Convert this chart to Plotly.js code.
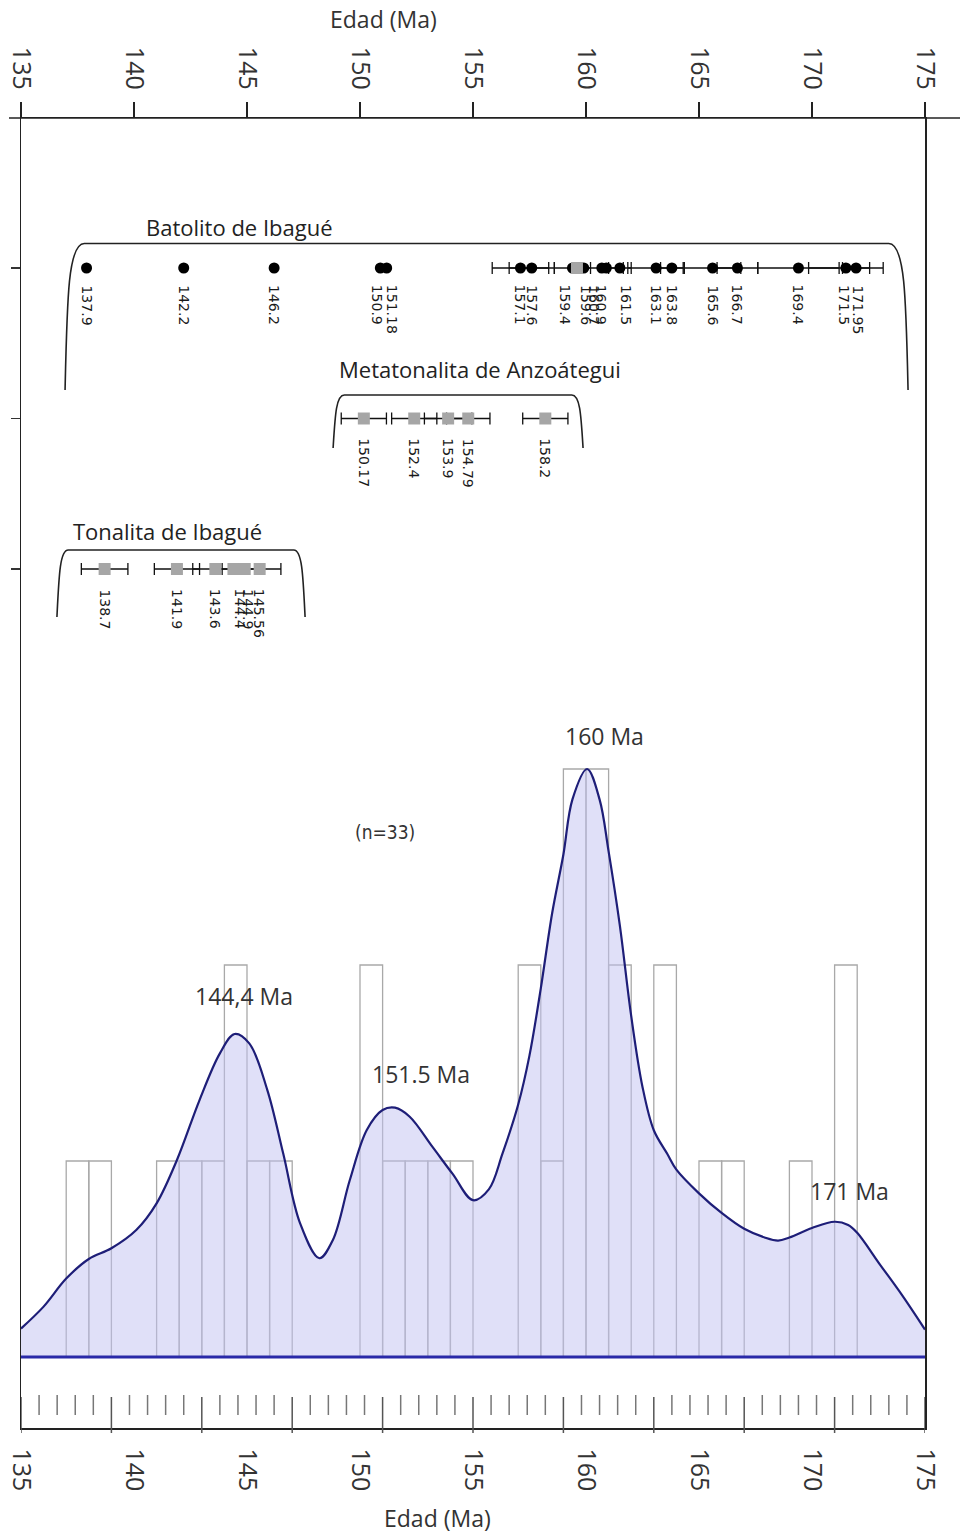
<!DOCTYPE html>
<html>
<head>
<meta charset="utf-8">
<script src="https://cdn.plot.ly/plotly-3.0.1.min.js"></script>
<style>
html,body{margin:0;padding:0;background:#ffffff;}
#chart{width:960px;height:1534px;}
</style>
</head>
<body>
<div id="chart"></div>
<script>
// ---------------- DATA ----------------
// Rows of the upper panel, bottom -> top
const groupNames = ["Tonalita de Ibagué", "Metatonalita de Anzoátegui", "Batolito de Ibagué"];

// Batolito de Ibagué (black circles); null = error bar not visible
const batolitoAges = [137.9, 142.2, 146.2, 150.9, 151.18, 157.1, 157.6, 159.4, 160.7, 160.9, 161.5, 163.1, 163.8, 165.6, 166.7, 169.4, 171.5, 171.95];
const batolitoErr  = [null, null, null, null, null, 1.25, 1.0, 0.8, 0.95, null, 0.5, 1.25, 0.5, 1.25, 0.9, 1.8, 1.65, 0.6];
// Batolito, gray square and unlabeled circle
const batolitoSquareAges = [159.6];
const batolitoSquareErr  = [null];
const batolitoExtraAges  = [159.9];
const batolitoExtraErr   = [null];

// Metatonalita de Anzoátegui (gray squares)
const metaAges = [150.17, 152.4, 153.9, 154.79, 158.2];
const metaErr  = [1.0, 1.0, 1.05, 0.96, 1.0];

// Tonalita de Ibagué (gray squares)
const tonaAges = [138.7, 141.9, 143.6, 144.4, 144.9, 145.56];
const tonaErr  = [1.03, 1.0, 1.0, 0.5, 0.5, 0.94];

// Histogram (1 Ma bins): bin start and count
const binStarts = [137, 138, 141, 142, 143, 144, 145, 146, 150, 151, 152, 153, 154, 157, 158, 159, 160, 161, 163, 165, 166, 169, 171];
const binCounts = [1, 1, 1, 1, 1, 2, 1, 1, 2, 1, 1, 1, 1, 2, 1, 3, 3, 2, 2, 1, 1, 1, 2];

// Probability density curve (in histogram-count units)
const kdeAge = [135.0, 136.0, 137.0, 138.0, 139.0, 140.1, 141.0, 141.9, 142.9, 143.8, 144.45, 145.1, 145.9, 146.6, 147.35, 148.2, 148.8, 149.55, 150.3, 151.0, 151.55, 152.2, 153.2, 154.1, 155.0, 155.7, 156.3, 157.0, 157.5, 158.0, 158.5, 159.0, 159.4, 160.05, 160.6, 161.0, 161.5, 162.0, 162.5, 163.0, 163.6, 164.0, 165.0, 166.0, 167.0, 167.9, 168.5, 169.0, 170.0, 171.0, 171.6, 172.0, 173.0, 174.0, 175.0];
const kdeDensity = [0.145, 0.257, 0.40, 0.50, 0.555, 0.648, 0.784, 1.005, 1.311, 1.549, 1.648, 1.60, 1.362, 1.039, 0.682, 0.504, 0.597, 0.903, 1.158, 1.26, 1.272, 1.226, 1.073, 0.934, 0.80, 0.855, 1.036, 1.288, 1.539, 1.881, 2.263, 2.564, 2.845, 3.0, 2.845, 2.58, 2.2, 1.74, 1.378, 1.157, 1.036, 0.956, 0.835, 0.735, 0.654, 0.61, 0.594, 0.61, 0.658, 0.69, 0.674, 0.634, 0.473, 0.313, 0.14];

// Peak labels
const peakTexts = ["144,4 Ma", "151.5 Ma", "160 Ma", "171 Ma"];
const peakAt    = [144.87, 152.7, 160.84, 171.64];
const peakLabelLevel = [1.842, 1.444, 3.168, 0.847];

// Axis tick labels
const axisTickVals = [135, 140, 145, 150, 155, 160, 165, 170, 175];
const axisTickText = ["135", "140", "145", "150", "155", "160", "165", "170", "175"];
const axisTitle = "Edad (Ma)";
const sampleNote = "(n=33)";

// ---------------- GEOMETRY / STYLE ----------------
const PX = {L: 21, R: 925, T: 118, B: 1428};
const px2paperX = p => (p - PX.L) / (PX.R - PX.L);
const px2paperY = p => (PX.B - p) / (PX.B - PX.T);
const split = px2paperY(680);

const sans = "'Open Sans', 'Noto Sans', sans-serif";
const labelFont = {family: "'DejaVu Sans', sans-serif", size: 14, color: "#1a1a1a"};

// label nudges (px) for crowded labels
const nudge = {"150.9": -3, "151.18": 6, "159.4": -7, "159.6": 9, "160.7": -8, "160.9": -5, "161.5": 6,
               "171.5": -2, "171.95": 2, "144.4": 7, "144.9": 3};

const rowOf = name => groupNames.indexOf(name);

function errBar(arr) {
  return {type: 'data', array: arr.map(v => (v === null ? NaN : v)), symmetric: true,
          color: '#111', thickness: 1.3, width: 6};
}
function rowTrace(ages, errs, row, symbol, color, size) {
  return {
    type: 'scatter', mode: 'markers', xaxis: 'x2', yaxis: 'y2',
    x: ages, y: ages.map(() => row),
    error_x: errBar(errs),
    marker: {symbol: symbol, color: color, size: size, line: {width: 0}},
    hoverinfo: 'skip'
  };
}

const rB = rowOf("Batolito de Ibagué");
const rM = rowOf("Metatonalita de Anzoátegui");
const rT = rowOf("Tonalita de Ibagué");

const traces = [
  // histogram
  {type: 'bar', x: binStarts, y: binCounts, width: 1, offset: 0, xaxis: 'x', yaxis: 'y',
   marker: {color: 'rgba(255,255,255,0)', line: {color: '#a9a9a9', width: 1.3}}, hoverinfo: 'skip'},
  // density curve
  {type: 'scatter', mode: 'lines', x: kdeAge, y: kdeDensity, xaxis: 'x', yaxis: 'y',
   line: {shape: 'spline', smoothing: 1, color: '#1e1e78', width: 2.2},
   fill: 'tozeroy', fillcolor: 'rgba(193,193,241,0.5)', hoverinfo: 'skip'},
  // upper panel
  rowTrace(batolitoAges, batolitoErr, rB, 'circle', '#000000', 11),
  rowTrace(batolitoExtraAges, batolitoExtraErr, rB, 'circle', '#000000', 11),
  rowTrace(batolitoSquareAges, batolitoSquareErr, rB, 'square', '#a6a6a6', 12),
  rowTrace(metaAges, metaErr, rM, 'square', '#a6a6a6', 12),
  rowTrace(tonaAges, tonaErr, rT, 'square', '#a6a6a6', 12)
];

// ---------------- ANNOTATIONS ----------------
const annotations = [];
function addLabels(ages, row, ysh) {
  ages.forEach(a => {
    const t = String(a);
    annotations.push({x: a, y: row, xref: 'x2', yref: 'y2', text: t, textangle: 90,
      showarrow: false, xanchor: 'center', yanchor: 'top', yshift: ysh, xshift: nudge[t] || 0,
      font: labelFont});
  });
}
addLabels(batolitoAges.concat(batolitoSquareAges), rB, -15);
addLabels(metaAges, rM, -18);
addLabels(tonaAges, rT, -18);

// group titles
const groupTitlePos = {"Batolito de Ibagué": [144.69, 2.272], "Metatonalita de Anzoátegui": [155.31, 1.329], "Tonalita de Ibagué": [141.5, 0.252]};
groupNames.forEach(g => {
  annotations.push({x: groupTitlePos[g][0], y: groupTitlePos[g][1], xref: 'x2', yref: 'y2', text: g,
    showarrow: false, xanchor: 'center', yanchor: 'middle', font: {family: sans, size: 22, color: '#222'}});
});

// peak labels
peakTexts.forEach((t, i) => {
  annotations.push({x: peakAt[i], y: peakLabelLevel[i], xref: 'x', yref: 'y', text: t,
    showarrow: false, xanchor: 'center', yanchor: 'middle', font: {family: sans, size: 23, color: '#333'}});
});
annotations.push({x: 151.1, y: 2.679, xref: 'x', yref: 'y', text: sampleNote, showarrow: false,
  xanchor: 'center', yanchor: 'middle',
  font: {family: "'Liberation Sans Narrow', 'DejaVu Sans Condensed', sans-serif", size: 19, color: '#333'}});

// axis titles
annotations.push({x: px2paperX(383), y: px2paperY(19), xref: 'paper', yref: 'paper', text: axisTitle,
  showarrow: false, xanchor: 'center', yanchor: 'middle', font: {family: sans, size: 23, color: '#333'}});
annotations.push({x: px2paperX(437), y: px2paperY(1518), xref: 'paper', yref: 'paper', text: axisTitle,
  showarrow: false, xanchor: 'center', yanchor: 'middle', font: {family: sans, size: 23, color: '#333'}});

// ---------------- SHAPES ----------------
const shapes = [];
// brackets (x in Ma, y in row units)
function bracket(xl, xr, yt, yb, r) {
  const ym = yb + 0.62 * (yt - yb);
  const path = `M ${xl},${yb} C ${xl + 0.09},${ym} ${xl + 0.13},${yt} ${xl + r},${yt} L ${xr - r},${yt} ` +
               `C ${xr - 0.13},${yt} ${xr - 0.09},${ym} ${xr},${yb}`;
  shapes.push({type: 'path', path: path, xref: 'x2', yref: 'y2', line: {color: '#222', width: 1.6}});
}
bracket(136.95, 174.25, 2.163, 1.19, 0.85);
bracket(148.81, 159.87, 1.156, 0.804, 0.5);
bracket(136.59, 147.57, 0.126, -0.319, 0.5);

// base line of the density
shapes.push({type: 'line', xref: 'x', yref: 'y', x0: 135, x1: 175, y0: 0, y1: 0,
  line: {color: '#2a2aa8', width: 3}, layer: 'above'});
// extended top axis line
shapes.push({type: 'line', xref: 'paper', yref: 'paper', x0: px2paperX(9), x1: px2paperX(960), y0: 1, y1: 1,
  line: {color: '#222', width: 1.5}});
// bottom scale ticks: every 4 Ma (long) and every 0.8 Ma (short, floating)
for (let k = 0; k <= 50; k++) {
  const v = 135 + 0.8 * k;
  if (k % 5 === 0) {
    shapes.push({type: 'line', xref: 'x', yref: 'paper', x0: v, x1: v, y0: px2paperY(1397), y1: px2paperY(1433),
      line: {color: '#555', width: 1.5}});
  } else {
    shapes.push({type: 'line', xref: 'x', yref: 'paper', x0: v, x1: v, y0: px2paperY(1395), y1: px2paperY(1415),
      line: {color: '#777', width: 1.5}});
  }
}

// ---------------- LAYOUT ----------------
const tickFont = {family: sans, size: 25, color: '#333'};
const layout = {
  width: 960, height: 1534,
  margin: {l: PX.L, r: 960 - PX.R, t: PX.T, b: 1534 - PX.B, pad: 0},
  paper_bgcolor: '#ffffff', plot_bgcolor: 'rgba(0,0,0,0)',
  showlegend: false, hovermode: false, bargap: 0,
  xaxis: {domain: [0, 1], anchor: 'y', range: [135, 175], tickmode: 'array', tickvals: axisTickVals, ticktext: axisTickText,
    tickangle: 90, ticks: '', showline: true, linecolor: '#222', linewidth: 1.5, showgrid: false, zeroline: false,
    tickfont: tickFont, ticklabelstandoff: 14},
  yaxis: {domain: [0, split], anchor: 'x', range: [-71 / 196, 677 / 196], showline: true, mirror: true,
    linecolor: '#222', linewidth: 1.5, ticks: '', showticklabels: false, showgrid: false, zeroline: false},
  xaxis2: {domain: [0, 1], anchor: 'y2', side: 'top', range: [135, 175], tickmode: 'array', tickvals: axisTickVals, ticktext: axisTickText,
    tickangle: 90, ticks: 'outside', ticklen: 15, tickwidth: 1.3, tickcolor: '#222', showline: true, linecolor: '#222', linewidth: 1.5,
    showgrid: false, zeroline: false, tickfont: tickFont, ticklabelstandoff: 3},
  yaxis2: {domain: [split, 1], anchor: 'x2', range: [-0.7375, 2.9967], tickmode: 'array', tickvals: [0, 1, 2],
    ticks: 'outside', ticklen: 9, tickwidth: 1.3, tickcolor: '#333', showticklabels: false, showline: true, mirror: true,
    linecolor: '#222', linewidth: 1.5, showgrid: false, zeroline: false},
  annotations: annotations,
  shapes: shapes
};

Plotly.newPlot('chart', traces, layout, {staticPlot: true, displayModeBar: false});
</script>
</body>
</html>
